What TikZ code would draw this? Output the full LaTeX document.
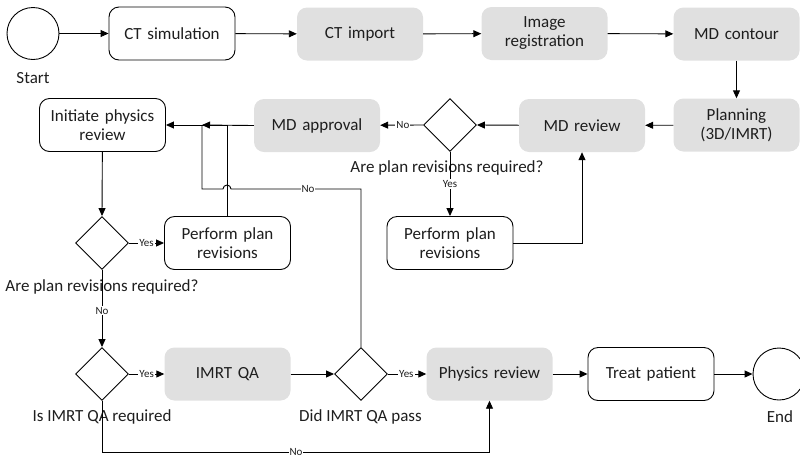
\documentclass[tikz,border=0pt]{standalone}
\usepackage{fontspec}
\setmainfont{Carlito}
\usetikzlibrary{arrows.meta,shapes.geometric,calc}
\definecolor{boxgray}{RGB}{224,224,224}
\definecolor{txt}{RGB}{30,30,30}
\begin{document}
\begin{tikzpicture}[x=1pt,y=-1pt,
  font=\fontsize{17}{19}\selectfont, text=txt,
  base/.style={rounded corners=10pt, minimum width=126pt, minimum height=53pt, align=center, inner sep=0pt, text width=122pt},
  box/.style={base, draw=black, line width=0.9pt, fill=white},
  gbox/.style={base, fill=boxgray},
  dec/.style={draw=black, diamond, minimum width=53pt, minimum height=53pt, inner sep=0pt, line width=0.9pt},
  term/.style={draw=black, circle, minimum size=52pt, inner sep=0pt, line width=0.9pt},
  ln/.style={line width=0.9pt, draw=black},
  arr/.style={ln, -{Triangle[length=8pt,width=7pt]}},
  lbl/.style={font=\fontsize{11}{12}\selectfont, fill=white, inner sep=1pt},
  capt/.style={inner sep=0pt},
]
\useasboundingbox (0,0) rectangle (800,456);

% row 1
\node[term] (start) at (33,33.5) {};
\node[capt] (startl) at (33,78) {Start};
\node[box] (ctsim) at (172,33.5) {CT simulation};
\node[gbox] (ctimp) at (360,34) {CT import};
\node[gbox] (imreg) at (544.5,33.5) {Image\\registration};
\node[gbox] (mdcon) at (736.5,34) {MD contour};

% row 2
\node[gbox] (plan) at (736.5,125) {Planning\\(3D/IMRT)};
\node[gbox] (mdrev) at (582,125.5) {MD review};
\node[dec] (d1) at (450,125) {};
\node[gbox] (mdapp) at (317,125.5) {MD approval};
\node[box] (init) at (102.5,125) {Initiate physics\\review};
\node[capt] (d1l) at (447,168) {Are plan revisions required?};

% row 3
\node[box] (ppr2) at (450,243) {Perform plan\\revisions};
\node[dec] (d2) at (102,243) {};
\node[box] (ppr1) at (227.5,243) {Perform plan\\revisions};
\node[capt] (d2l) at (102,287) {Are plan revisions required?};

% row 4
\node[dec] (d3) at (102,374) {};
\node[gbox] (qa) at (227.5,374) {IMRT QA};
\node[dec] (d4) at (361,374) {};
\node[gbox] (phys) at (489.5,374) {Physics review};
\node[box] (treat) at (651,374) {Treat patient};
\node[term] (endc) at (779,374) {};
\node[capt] (d3l) at (102,417) {Is IMRT QA required};
\node[capt] (d4l) at (360.5,417) {Did IMRT QA pass};
\node[capt] (endl) at (780,417) {End};

\coordinate (j1) at (202,125);
\coordinate (nb) at (202,189);

% row 1 connectors
\draw[arr] (start) -- (ctsim);
\draw[arr] (ctsim) -- (ctimp);
\draw[arr] (ctimp) -- (imreg);
\draw[arr] (imreg) -- (mdcon);
\draw[arr] (mdcon) -- (plan);

% row 2 connectors
\draw[arr] (plan) -- (mdrev);
\draw[arr] (mdrev) -- (d1.east);
\draw[arr] (d1.west) -- node[lbl, pos=0.47] {No} (mdapp);
\draw[arr] (d1.south) -- node[lbl, pos=0.5] {Yes} (ppr2);
\draw[arr] (ppr2.east) -| (mdrev.south);
\draw[arr] (mdapp.west) -- (j1);
\draw[arr] (ppr1.north) |- (init.east);

% row 3 connectors
\draw[arr] (init) -- (d2.north);
\draw[arr] (d2.east) -- node[lbl, pos=0.5] {Yes} (ppr1.west);
\draw[arr] (d2.south) -- node[lbl, pos=0.53] {No} (d3.north);

% row 4 connectors
\draw[arr] (d3.east) -- node[lbl, pos=0.5] {Yes} (qa.west);
\draw[arr] (d3.south) |- (296,452) node[lbl] {No} -| (phys.south);
\draw[arr] (qa.east) -- (d4.west);
\draw[arr] (d4.east) -- node[lbl, pos=0.48] {Yes} (phys.west);
\draw[arr] (phys) -- (treat);
\draw[arr] (treat) -- (endc);

% "No" return path from "Did IMRT QA pass"
\draw[ln] (d4.north) |- (308,189) node[lbl] {No} -- (231,189)
  arc[start angle=0, end angle=-180, radius=4] -- (nb) -- (j1);
\end{tikzpicture}
\end{document}
